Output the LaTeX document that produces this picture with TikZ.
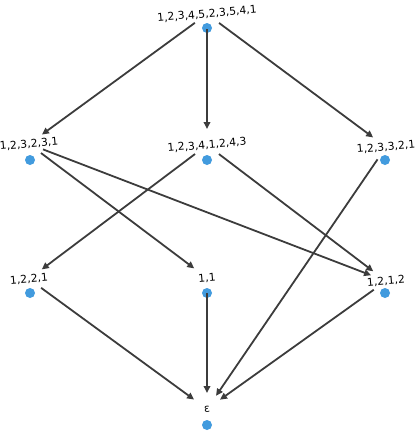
\documentclass[tikz,border=0pt]{standalone}
\usepackage{fontspec}
\setmainfont{DejaVu Sans}
\usetikzlibrary{arrows.meta}
\definecolor{dotblue}{RGB}{66,155,222}
\definecolor{edgegray}{RGB}{60,60,60}
\begin{document}
\begin{tikzpicture}[x=1pt,y=-1pt]
        \useasboundingbox (0,0) rectangle (415,431);

        \begin{scope}[every node/.style={circle,fill=dotblue,inner sep=0pt,minimum size=10pt}]
          \node (d1) at (207,28)  {};
          \node (d2) at (30,160)  {};
          \node (d3) at (207,160) {};
          \node (d4) at (385,160) {};
          \node (d5) at (30,293)  {};
          \node (d6) at (207,293) {};
          \node (d7) at (385,293) {};
          \node (d8) at (207,425) {};
        \end{scope}

        \begin{scope}[every node/.style={inner sep=0pt,rotate=5,font=\fontsize{10.8}{12}\selectfont}]
          \node (1) at (207,14)  {1,2,3,4,5,2,3,5,4,1};
          \node (2) at (29,144)  {1,2,3,2,3,1};
          \node (3) at (207,145) {1,2,3,4,1,2,4,3};
          \node (4) at (386,147) {1,2,3,3,2,1};
          \node (5) at (29,279)  {1,2,2,1};
          \node (6) at (207,278) {1,1};
          \node (7) at (386,281) {1,2,1,2};
          \node (8) at (207,409) {ε};
        \end{scope}

        \begin{scope}[every edge/.style={draw=edgegray,line width=1.8pt,
            -{Triangle[length=7pt,width=6.5pt]},shorten <=15pt,shorten >=16pt}]
          \path (1.center) edge (2.center);
          \path (1.center) edge (3.center);
          \path (1.center) edge (4.center);
          \path (2.center) edge (6.center);
          \path (2.center) edge (7.center);
          \path (3.center) edge (5.center);
          \path (3.center) edge (7.center);
          \path (4.center) edge (8.center);
          \path (5.center) edge (8.center);
          \path (6.center) edge (8.center);
          \path (7.center) edge (8.center);
        \end{scope}

      \end{tikzpicture}
\end{document}
